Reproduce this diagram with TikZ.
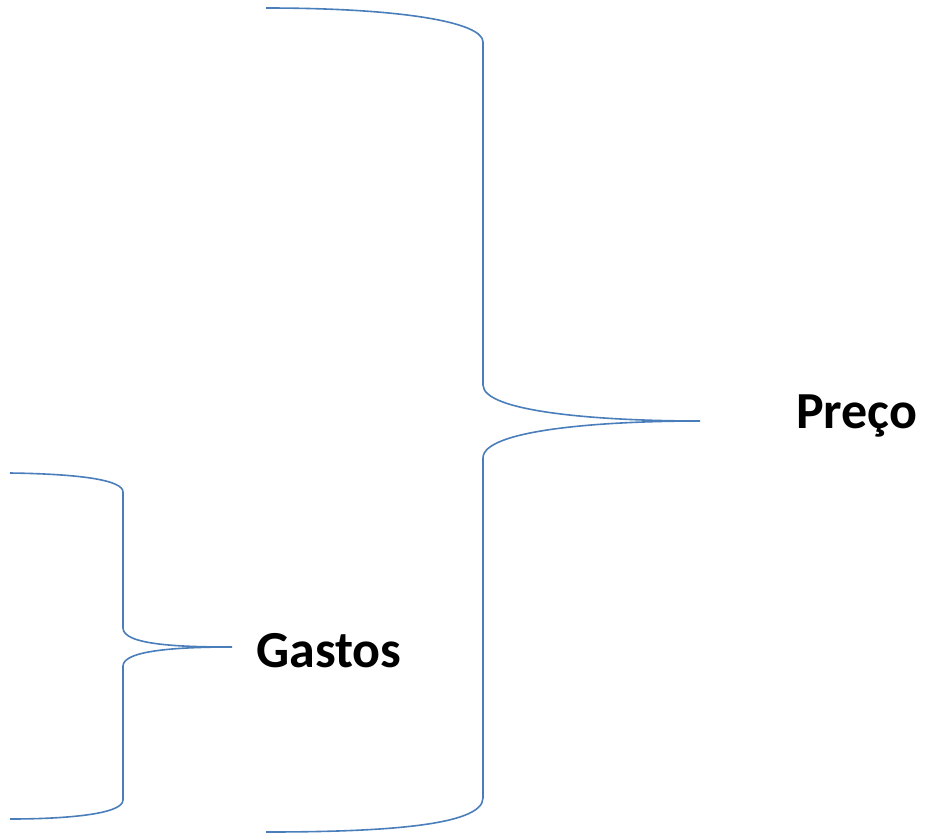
\documentclass[tikz,border=0pt]{standalone}
\usepackage{fontspec}
\setmainfont{Carlito}
\definecolor{braceblue}{HTML}{4A7EBB}
\begin{document}
\begin{tikzpicture}[x=1pt,y=-1pt,
  bracestyle/.style={draw=braceblue,line width=1.6pt},
  labelstyle/.style={inner sep=0pt,anchor=base west,font=\fontsize{52}{62}\selectfont\bfseries}]
\useasboundingbox (0,0) rectangle (925,835);
% large brace
\coordinate (Ltop) at (266,8);
\coordinate (Ltip) at (700,421);
\coordinate (Lbot) at (266,832);
\draw[bracestyle] (Ltop) .. controls (400,8) and (483,22) .. (483,42)
  -- (483,385) .. controls (483,412) and (600,421) .. (Ltip)
  .. controls (600,421) and (483,430) .. (483,458)
  -- (483,798) .. controls (483,826) and (380,832) .. (Lbot);
% small brace
\coordinate (Stop) at (10,473);
\coordinate (Stip) at (232,647);
\coordinate (Sbot) at (10,819);
\draw[bracestyle] (Stop) .. controls (80,474) and (123,480) .. (123,492)
  -- (123,628) .. controls (123,645) and (180,647) .. (Stip)
  .. controls (180,647) and (123,650) .. (123,666)
  -- (123,800) .. controls (123,815) and (60,819) .. (Sbot);
\node[labelstyle] (preco) at (796,428) {Preço};
\node[labelstyle] (gastos) at (256,667) {Gastos};
\end{tikzpicture}
\end{document}
